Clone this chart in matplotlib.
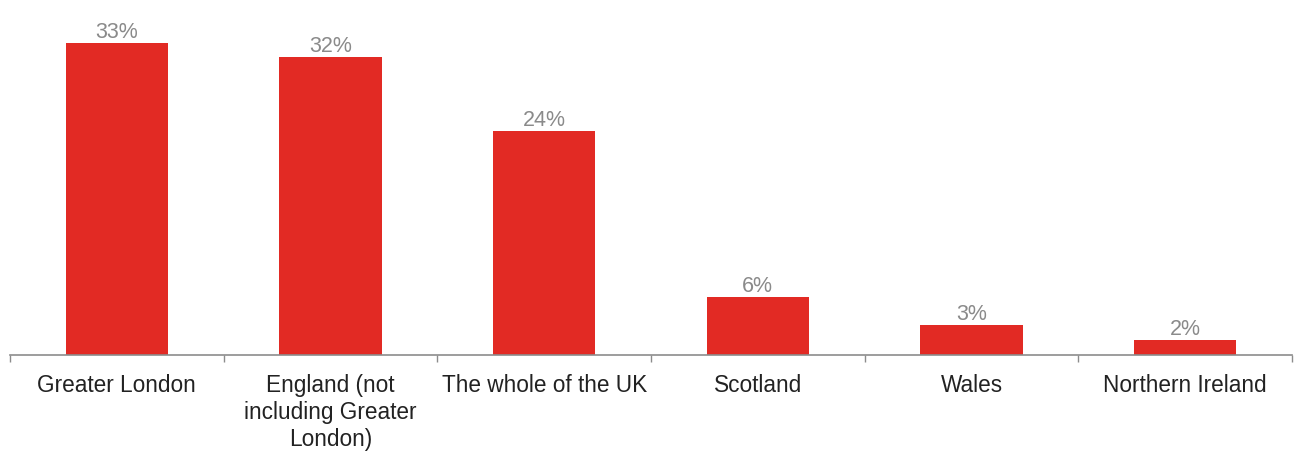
import matplotlib.pyplot as plt
import numpy as np

plt.rcParams["font.family"] = ["Liberation Sans", "DejaVu Sans"]

categories = ["Greater London", "England (not\nincluding Greater\nLondon)",
              "The whole of the UK", "Scotland", "Wales", "Northern Ireland"]
values = [33, 31.6, 23.7, 6.1, 3.2, 1.6]
labels = ["33%", "32%", "24%", "6%", "3%", "2%"]

fig = plt.figure(figsize=(13.03, 4.53), dpi=100)
ax = fig.add_axes([10 / 1303, 98 / 453, 1282 / 1303, 355 / 453])

x = np.arange(len(categories))
bars = ax.bar(x, values, width=0.48, color="#e22a24")

for b, lab in zip(bars, labels):
    ax.annotate(lab, (b.get_x() + b.get_width() / 2, b.get_height()),
                xytext=(0, 0), textcoords="offset points",
                ha="center", va="bottom", fontsize=15.5, color="#8a8a8a")

ax.set_xlim(-0.5, len(categories) - 0.5)
ax.set_ylim(0, 37.6)
ax.set_yticks([])
for s in ["top", "right", "left"]:
    ax.spines[s].set_visible(False)
ax.spines["bottom"].set_color("#8c8c8c")
ax.spines["bottom"].set_linewidth(1.2)

# ticks sit between categories, labels under bar centres
ax.set_xticks(np.arange(len(categories) + 1) - 0.5)
ax.set_xticklabels([])
ax.tick_params(axis="x", length=5, color="#8c8c8c", width=1)
ax.set_xticks(x, minor=True)
ax.set_xticklabels(categories, minor=True, fontsize=16.3, color="#222222",
                   linespacing=1.22)
ax.tick_params(axis="x", which="minor", length=0, pad=14)

fig.savefig("out.png", dpi=100)
